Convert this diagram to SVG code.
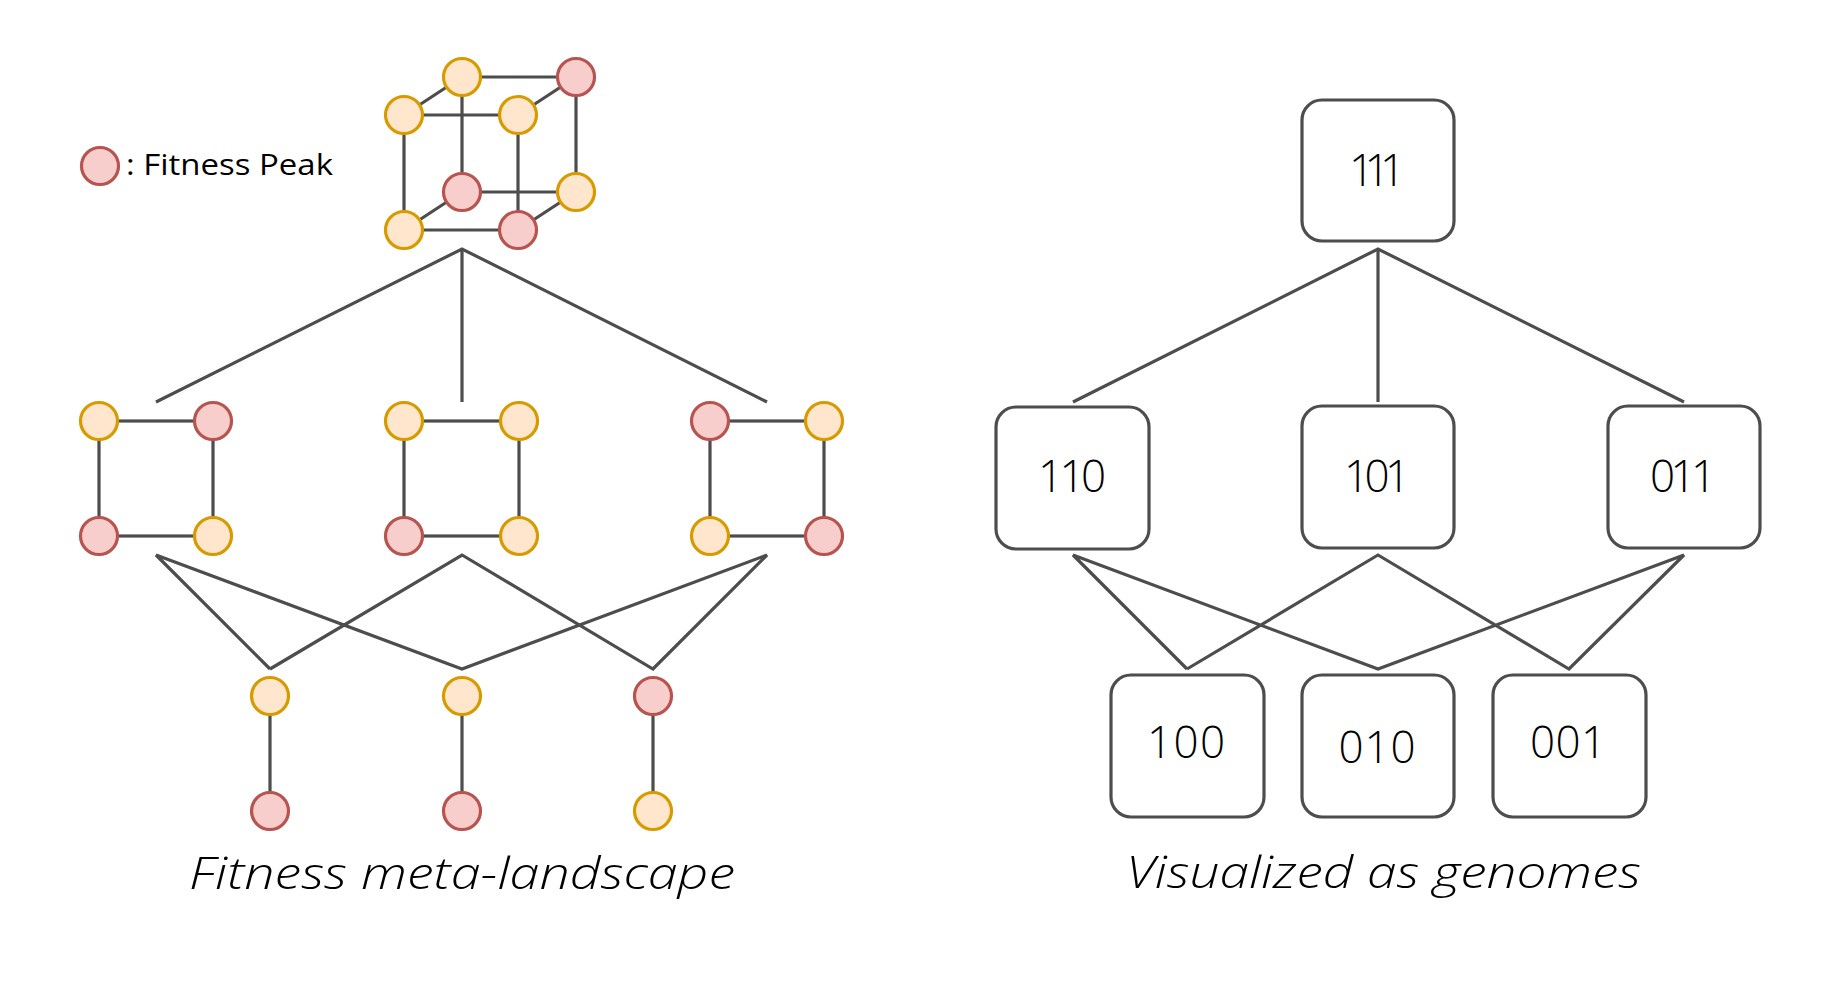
<svg xmlns="http://www.w3.org/2000/svg" width="1842" height="982" viewBox="0 0 1842 982">
<style>
.e{stroke:#4d4d4d;stroke-width:3.2;fill:none;stroke-linecap:butt}
.o{fill:#ffe6cc;stroke:#d79b00;stroke-width:3.2}
.r{fill:#f8cecc;stroke:#b85450;stroke-width:3.2}
.b{fill:#ffffff;stroke:#4d4d4d;stroke-width:3.2}
.t{font-family:"Open Sans","Liberation Sans",sans-serif;fill:#000}
.d{font-family:"Open Sans","Liberation Sans",sans-serif;font-size:44px;font-weight:300;text-anchor:middle;fill:#000}
.c{font-family:"Open Sans","Liberation Sans",sans-serif;font-size:44px;font-weight:300;font-style:italic;fill:#000}
</style>
<rect width="1842" height="982" fill="#ffffff"/>
<g id="connectors">
<line class="e" x1="462" y1="77" x2="576" y2="77"/>
<line class="e" x1="404" y1="115" x2="518" y2="115"/>
<line class="e" x1="462" y1="192" x2="576" y2="192"/>
<line class="e" x1="404" y1="230" x2="518" y2="230"/>
<line class="e" x1="462" y1="77" x2="404" y2="115"/>
<line class="e" x1="576" y1="77" x2="518" y2="115"/>
<line class="e" x1="462" y1="192" x2="404" y2="230"/>
<line class="e" x1="576" y1="192" x2="518" y2="230"/>
<line class="e" x1="404" y1="115" x2="404" y2="230"/>
<line class="e" x1="518" y1="115" x2="518" y2="230"/>
<line class="e" x1="462" y1="77" x2="462" y2="192"/>
<line class="e" x1="576" y1="77" x2="576" y2="192"/>
<polyline class="e" points="156,402 462,249 767,402"/>
<line class="e" x1="462" y1="249" x2="462" y2="402"/>
<rect class="e" x="99" y="421" width="114" height="115"/>
<rect class="e" x="404" y="421" width="115" height="115"/>
<rect class="e" x="710" y="421" width="114" height="115"/>
<polyline class="e" points="270,669 156,555 462,669 767,555 653,669 462,555 270,669"/>
<line class="e" x1="270" y1="696" x2="270" y2="811"/>
<line class="e" x1="462" y1="696" x2="462" y2="811"/>
<line class="e" x1="653" y1="696" x2="653" y2="811"/>
<polyline class="e" points="1073,402 1378,249 1684,402"/>
<line class="e" x1="1378" y1="249" x2="1378" y2="402"/>
<polyline class="e" points="1187,669 1073,555 1378,669 1684,555 1569,669 1378,555 1187,669"/>
</g>
<g id="legend">
<circle class="r" cx="100" cy="166" r="18.5"/>
<text class="t" x="126" y="175" font-size="30" textLength="207" lengthAdjust="spacingAndGlyphs">: Fitness Peak</text>
</g>
<g id="cube">
<circle class="o" cx="462" cy="77" r="18.5"/>
<circle class="r" cx="576" cy="77" r="18.5"/>
<circle class="o" cx="404" cy="115" r="18.5"/>
<circle class="o" cx="518" cy="115" r="18.5"/>
<circle class="r" cx="462" cy="192" r="18.5"/>
<circle class="o" cx="576" cy="192" r="18.5"/>
<circle class="o" cx="404" cy="230" r="18.5"/>
<circle class="r" cx="518" cy="230" r="18.5"/>
</g>
<g id="square-left">
<circle class="o" cx="99" cy="421" r="18.5"/>
<circle class="r" cx="213" cy="421" r="18.5"/>
<circle class="r" cx="99" cy="536" r="18.5"/>
<circle class="o" cx="213" cy="536" r="18.5"/>
</g>
<g id="square-middle">
<circle class="o" cx="404" cy="421" r="18.5"/>
<circle class="o" cx="519" cy="421" r="18.5"/>
<circle class="r" cx="404" cy="536" r="18.5"/>
<circle class="o" cx="519" cy="536" r="18.5"/>
</g>
<g id="square-right">
<circle class="r" cx="710" cy="421" r="18.5"/>
<circle class="o" cx="824" cy="421" r="18.5"/>
<circle class="o" cx="710" cy="536" r="18.5"/>
<circle class="r" cx="824" cy="536" r="18.5"/>
</g>
<g id="pair-left">
<circle class="o" cx="270" cy="696" r="18.5"/>
<circle class="r" cx="270" cy="811" r="18.5"/>
</g>
<g id="pair-middle">
<circle class="o" cx="462" cy="696" r="18.5"/>
<circle class="r" cx="462" cy="811" r="18.5"/>
</g>
<g id="pair-right">
<circle class="r" cx="653" cy="696" r="18.5"/>
<circle class="o" cx="653" cy="811" r="18.5"/>
</g>
<g id="node-111">
<rect class="b" x="1302" y="100" width="152" height="141" rx="20"/>
<text class="d" x="1377" y="186" textLength="56" lengthAdjust="spacing">111</text>
</g>
<g id="node-110">
<rect class="b" x="996" y="407" width="153" height="142" rx="20"/>
<text class="d" x="1072" y="492" textLength="68" lengthAdjust="spacing">110</text>
</g>
<g id="node-101">
<rect class="b" x="1302" y="406" width="152" height="142" rx="20"/>
<text class="d" x="1377" y="492" textLength="66" lengthAdjust="spacing">101</text>
</g>
<g id="node-011">
<rect class="b" x="1608" y="406" width="152" height="142" rx="20"/>
<text class="d" x="1683" y="492" textLength="66" lengthAdjust="spacing">011</text>
</g>
<g id="node-100">
<rect class="b" x="1111" y="675" width="153" height="142" rx="20"/>
<text class="d" x="1186" y="758" textLength="78" lengthAdjust="spacing">100</text>
</g>
<g id="node-010">
<rect class="b" x="1302" y="675" width="152" height="142" rx="20"/>
<text class="d" x="1377" y="763" textLength="77" lengthAdjust="spacing">010</text>
</g>
<g id="node-001">
<rect class="b" x="1493" y="675" width="153" height="142" rx="20"/>
<text class="d" x="1568" y="758" textLength="76" lengthAdjust="spacing">001</text>
</g>
<g id="captions">
<text class="c" x="189" y="889" textLength="546" lengthAdjust="spacingAndGlyphs">Fitness meta-landscape</text>
<text class="c" x="1126" y="888" textLength="515" lengthAdjust="spacingAndGlyphs">Visualized as genomes</text>
</g>
</svg>
